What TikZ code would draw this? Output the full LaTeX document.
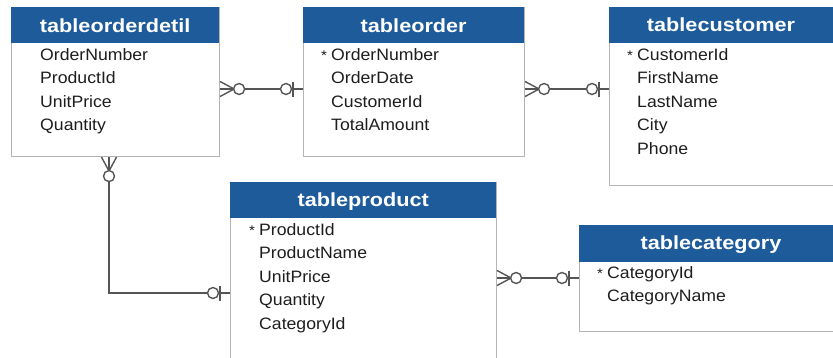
\documentclass[tikz,border=0pt]{standalone}
\usepackage{fontspec}
\setmainfont[FakeStretch=1.07]{Liberation Sans}
\newfontfamily\headfont[FakeStretch=1.14]{Liberation Sans}
\usetikzlibrary{calc}
\definecolor{hdblue}{HTML}{1D5B9B}
\definecolor{boxgray}{HTML}{B4B4B4}
\definecolor{linegray}{HTML}{555555}
\definecolor{txt}{HTML}{1E1E1E}
\begin{document}
\begin{tikzpicture}[x=1pt,y=-1pt,
  tbl/.style={draw=boxgray, line width=1.1pt, fill=white, anchor=north west, inner sep=0pt},
  hdr/.style={fill=hdblue, anchor=north west, inner sep=0pt, minimum height=36pt},
  hdtext/.style={anchor=base, text=white, font=\headfont\fontsize{19}{22}\selectfont\bfseries, inner sep=0pt},
  row/.style={anchor=base west, text=txt, font=\fontsize{16.5}{20}\selectfont, inner sep=0pt},
  star/.style={anchor=base west, text=txt, font=\fontsize{14}{16}\selectfont, inner sep=0pt},
  conn/.style={draw=linegray, line width=1.4pt},
  many/.pic={\draw[conn] (0,-7.5) -- (14,0) -- (0,7.5) (0,0) -- (14,0);
             \draw[conn, fill=white] (19,0) circle (5.5pt);},
  one/.pic={\draw[conn] (10,-7.5) -- (10,7.5);
            \draw[conn, fill=white] (17,0) circle (5.5pt);}
]
\useasboundingbox (0,0) rectangle (833,357);
\clip (0,0) rectangle (833,357);

% ---------- tableorderdetil ----------
\node[tbl, minimum width=208pt, minimum height=149pt] (detail) at (11,7) {};
\node[hdr, minimum width=208pt] (detailH) at (detail.north west) {};
\node[hdtext] (detailT) at ($(detailH.north)+(0,25)$) {tableorderdetil};
\node[row] (d1) at (40,60) {OrderNumber};
\node[row] (d2) at (40,83.5) {ProductId};
\node[row] (d3) at (40,107) {UnitPrice};
\node[row] (d4) at (40,130.5) {Quantity};

% ---------- tableorder ----------
\node[tbl, minimum width=221pt, minimum height=149pt] (order) at (303,7) {};
\node[hdr, minimum width=221pt] (orderH) at (order.north west) {};
\node[hdtext] (orderT) at ($(orderH.north)+(0,25)$) {tableorder};
\node[star] (o0) at (321,60) {*};
\node[row] (o1) at (331,60) {OrderNumber};
\node[row] (o2) at (331,83.5) {OrderDate};
\node[row] (o3) at (331,107) {CustomerId};
\node[row] (o4) at (331,130.5) {TotalAmount};

% ---------- tablecustomer ----------
\node[tbl, minimum width=240pt, minimum height=178pt] (cust) at (609,7) {};
\node[hdr, minimum width=240pt] (custH) at (cust.north west) {};
\node[hdtext] (custT) at (721,31) {tablecustomer};
\node[star] (c0) at (627,60) {*};
\node[row] (c1) at (637,60) {CustomerId};
\node[row] (c2) at (637,83.5) {FirstName};
\node[row] (c3) at (637,107) {LastName};
\node[row] (c4) at (637,130.5) {City};
\node[row] (c5) at (637,154) {Phone};

% ---------- tableproduct ----------
\node[tbl, minimum width=266pt, minimum height=190pt] (prod) at (230,182) {};
\node[hdr, minimum width=266pt] (prodH) at (prod.north west) {};
\node[hdtext] (prodT) at ($(prodH.north)+(0,24)$) {tableproduct};
\node[star] (p0) at (249,235) {*};
\node[row] (p1) at (259,235) {ProductId};
\node[row] (p2) at (259,258.5) {ProductName};
\node[row] (p3) at (259,282) {UnitPrice};
\node[row] (p4) at (259,305.5) {Quantity};
\node[row] (p5) at (259,329) {CategoryId};

% ---------- tablecategory ----------
\node[tbl, minimum width=270pt, minimum height=106pt] (cat) at (579,225) {};
\node[hdr, minimum width=270pt, minimum height=37pt] (catH) at (cat.north west) {};
\node[hdtext] (catT) at (711,249) {tablecategory};
\node[star] (k0) at (597,278) {*};
\node[row] (k1) at (607,278) {CategoryId};
\node[row] (k2) at (607,301.5) {CategoryName};

% ---------- relationships ----------
\coordinate (ya) at (0,89);
\coordinate (yb) at (0,293);
\coordinate (yc) at (0,278);
\coordinate (xa) at (109,0);
\coordinate (bend) at (109,293);

\draw[conn] (detail.east |- ya) -- (order.west |- ya);
\draw[conn] (order.east |- ya) -- (cust.west |- ya);
\draw[conn] (detail.south -| xa) -- (bend) -- (prod.west |- yb);
\draw[conn] (prod.east |- yc) -- (cat.west |- yc);

\pic at (detail.east |- ya) {many};
\pic[rotate=180] at (order.west |- ya) {one};
\pic at (order.east |- ya) {many};
\pic[rotate=180] at (cust.west |- ya) {one};
\pic[rotate=-90] at (detail.south -| xa) {many};
\pic[rotate=180] at (prod.west |- yb) {one};
\pic at (prod.east |- yc) {many};
\pic[rotate=180] at (cat.west |- yc) {one};
\end{tikzpicture}
\end{document}
